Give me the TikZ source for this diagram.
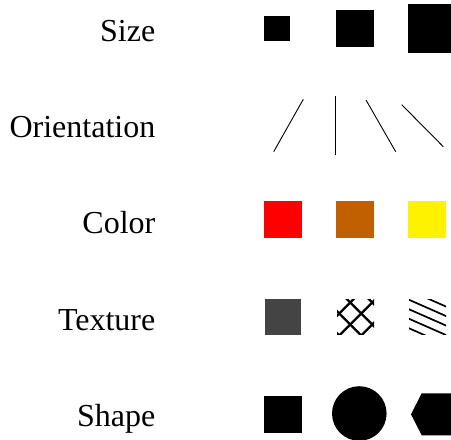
\documentclass[tikz,border=0pt]{standalone}
\usepackage{fontspec}
\setmainfont{Liberation Serif}
\begin{document}
\begin{tikzpicture}[x=1pt,y=-1pt,
  lbl/.style={anchor=base east,inner sep=0pt,font=\fontsize{32}{36}\selectfont},
  blk/.style={fill=black,draw=none},
  oline/.style={draw=black,line width=0.9pt},
  hatch/.style={draw=black,line width=2.2pt},
  stripe/.style={draw=black,line width=1.7pt}]
\definecolor{brownish}{RGB}{192,96,0}
\definecolor{darkgrey}{RGB}{68,68,68}
\useasboundingbox (0,0) rectangle (451,440);
\clip (0,0) rectangle (451,440);
% labels
\node[lbl] (size) at (155.5,41.7) {Size};
\node[lbl] (orient) at (155.5,137.3) {Orientation};
\node[lbl] (color) at (155.5,233.3) {Color};
\node[lbl] (texture) at (155.5,330) {Texture};
\node[lbl] (shape) at (155.5,426.7) {Shape};
% size
\fill[blk] (264.3,16) rectangle (290,41.3);
\fill[blk] (336.3,9.7) rectangle (373.7,47);
\fill[blk] (408.3,4) rectangle (457.3,53);
% orientation
\draw[oline] (273.7,151.7) -- (303.3,99.3);
\draw[oline] (335.7,96) -- (335.7,155.3);
\draw[oline] (366,100) -- (395.7,151.7);
\draw[oline] (401.7,104.7) -- (443.3,146.7);
% color
\fill[red] (264.3,200.7) rectangle (301.7,237.7);
\fill[brownish] (336.3,200.7) rectangle (373.7,237.7);
\fill[yellow] (408.3,200.7) rectangle (445.7,237.7);
% texture
\fill[darkgrey] (265,299) rectangle (301,334.7);
\begin{scope}
  \clip (337,299) rectangle (374,334.7);
  \foreach \c in {-44,-22,0,22,44} {
    \draw[hatch] (300,{300-47.8-\c}) -- (400,{400-47.8-\c});
    \draw[hatch] (300,{652.8+\c-300}) -- (400,{652.8+\c-400});
  }
\end{scope}
\begin{scope}
  \clip (409,299) rectangle (446,334.7);
  \foreach \b in {271.5,281,290.5,300,309.5,319,328.5,338} {
    \draw[stripe] (400,{\b-4.2}) -- (460,{\b+22.2});
  }
\end{scope}
% shape
\fill[blk] (264.3,395.7) rectangle (302,433.3);
\fill[blk] (359.3,413.5) circle (27.3);
\fill[blk] (411,414.3) -- (421.7,393.3) -- (452,393.3) -- (462,414.3) -- (452,435.3) -- (421.7,435.3) -- cycle;
\end{tikzpicture}
\end{document}
